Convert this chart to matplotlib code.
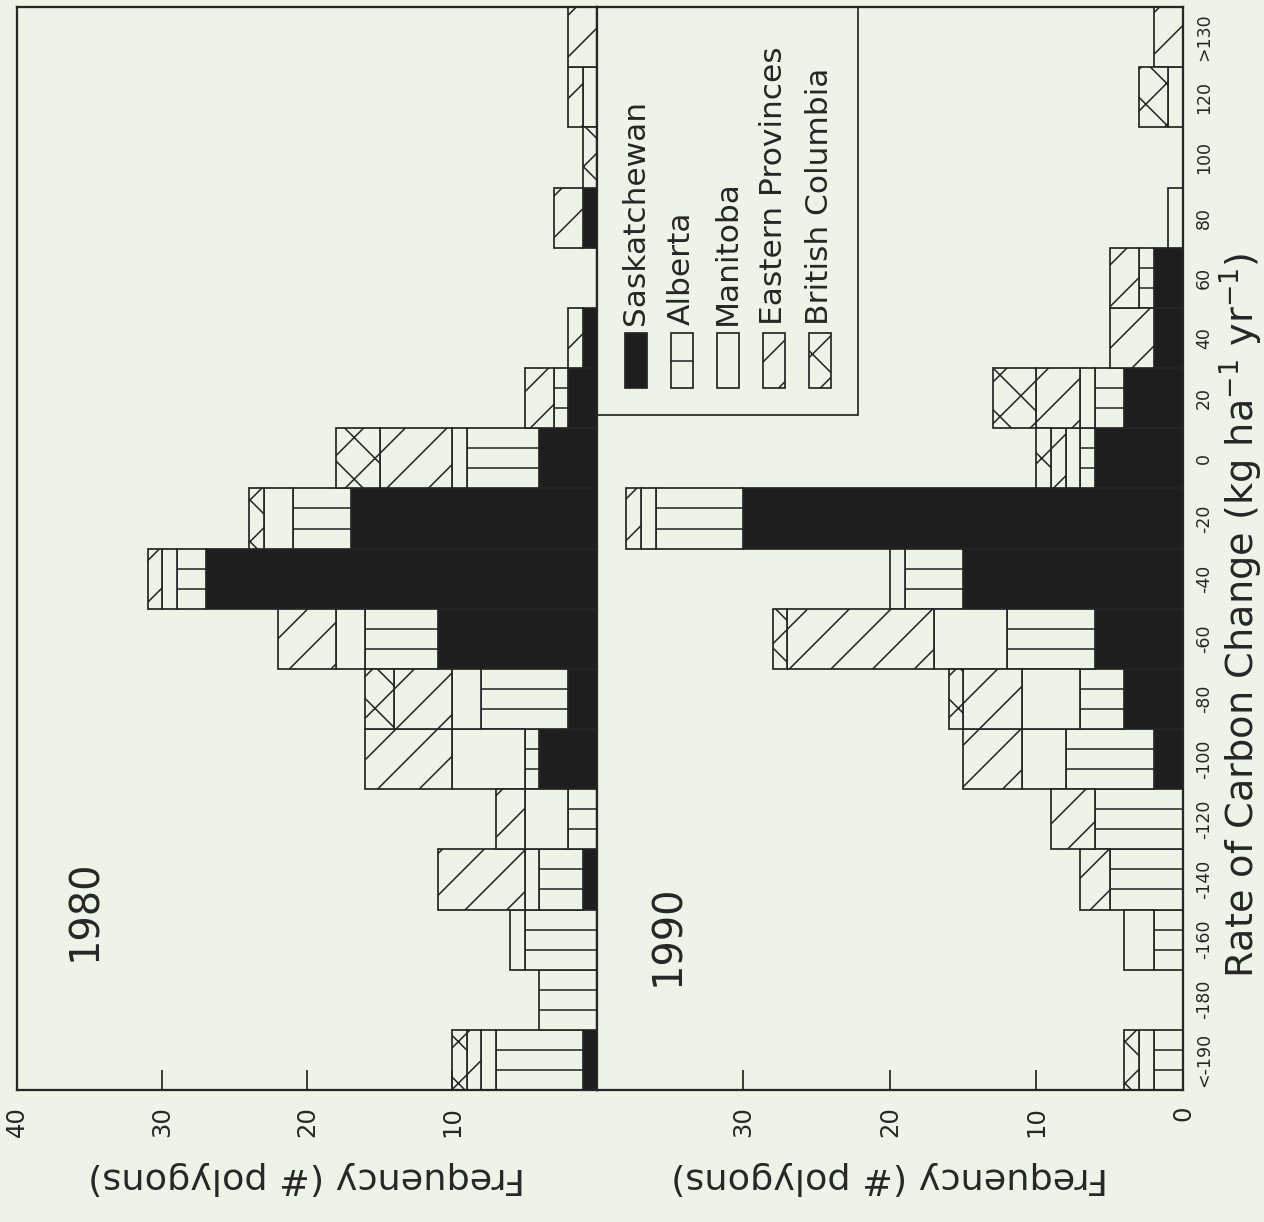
import numpy as np
import matplotlib.pyplot as plt
from matplotlib.patches import Rectangle

plt.rcParams['font.family'] = ['DejaVu Sans']
plt.rcParams['mathtext.fontset'] = 'dejavusans'
plt.rcParams['hatch.linewidth'] = 0.9
plt.rcParams['hatch.color'] = '#262626'

# bins of carbon change (kg ha-1 yr-1), left to right in the original figure
bins = ["<-190", "-180", "-160", "-140", "-120", "-100", "-80", "-60", "-40",
        "-20", "0", "20", "40", "60", "80", "100", "120", ">130"]
provinces = ["Saskatchewan", "Alberta", "Manitoba", "Eastern Provinces", "British Columbia"]

# 1980 counts (number of polygons)
sask_80    = [1, 0, 0, 1, 0, 4, 2, 11, 27, 17, 4, 2, 1, 0, 1, 0, 0, 0]
alberta_80 = [6, 4, 5, 3, 2, 1, 6, 5, 2, 4, 5, 1, 0, 0, 0, 0, 0, 0]
manit_80   = [1, 0, 1, 1, 3, 5, 2, 2, 1, 2, 1, 0, 0, 0, 0, 0, 1, 0]
east_80    = [1, 0, 0, 6, 2, 6, 4, 4, 1, 0, 5, 2, 1, 0, 2, 0, 1, 2]
bc_80      = [1, 0, 0, 0, 0, 0, 2, 0, 0, 1, 3, 0, 0, 0, 0, 1, 0, 0]

# 1990 counts
sask_90    = [0, 0, 0, 0, 0, 2, 4, 6, 15, 30, 6, 4, 2, 2, 0, 0, 0, 0]
alberta_90 = [2, 0, 2, 5, 6, 6, 3, 6, 4, 6, 1, 2, 0, 1, 0, 0, 0, 0]
manit_90   = [1, 0, 2, 0, 0, 3, 4, 5, 1, 1, 1, 1, 0, 0, 1, 0, 1, 0]
east_90    = [0, 0, 0, 2, 3, 4, 4, 10, 0, 1, 1, 3, 3, 2, 0, 0, 0, 2]
bc_90      = [1, 0, 0, 0, 0, 0, 1, 1, 0, 0, 1, 3, 0, 0, 0, 0, 2, 0]

freq_ticks_top = [10, 20, 30, 40]
freq_ticks_bottom = [0, 10, 20, 30]

bg = '#eef3e8'
ink = '#262626'
dark = '#1e1e1e'
# face colour, hatch for each province
styles = {
    "Saskatchewan": (dark, None),
    "Alberta": (bg, None),
    "Manitoba": (bg, None),
    "Eastern Provinces": (bg, '/'),
    "British Columbia": (bg, 'x'),
}

DPI = 125
fig = plt.figure(figsize=(1264 / DPI, 1222 / DPI), dpi=DPI, facecolor=bg)
ax1 = fig.add_axes([0.01345, 0.108, 0.4589, 0.8862], facecolor=bg)
ax2 = fig.add_axes([0.4723, 0.108, 0.4636, 0.8862], facecolor=bg)


def stack(ax, data):
    y = np.arange(len(bins))
    base = np.zeros(len(bins))
    for name, vals in zip(provinces, data):
        vals = np.asarray(vals, dtype=float)
        has = vals > 0
        fc, hatch = styles[name]
        ax.barh(y[has], vals[has], left=base[has], height=1.0, color=fc,
                hatch=hatch, edgecolor=ink, linewidth=1.0)
        if name == "Alberta":
            for yi, b0, v in zip(y[has], base[has], vals[has]):
                ax.hlines([yi - 1 / 6, yi + 1 / 6], b0, b0 + v, color=ink, lw=0.9)
        base += vals


stack(ax1, [sask_80, alberta_80, manit_80, east_80, bc_80])
stack(ax2, [sask_90, alberta_90, manit_90, east_90, bc_90])

for ax, ticks in [(ax1, freq_ticks_top), (ax2, freq_ticks_bottom)]:
    ax.set_xlim(40, 0)
    ax.set_ylim(-0.5, len(bins) - 0.5)
    ax.set_xticks(ticks)
    ax.set_xticklabels([str(t) for t in ticks], rotation=90, fontsize=14)
    ax.tick_params(axis='x', direction='in', length=11.5, width=1.0, pad=9, colors=ink)
    for s in ax.spines.values():
        s.set_linewidth(1.3)
        s.set_color(ink)
    ax.set_xlabel("Frequency (# polygons)", rotation=180, fontsize=21,
                  va='center', color=ink)
    ax.xaxis.set_label_coords(0.5, -0.081)

ax1.set_yticks([])
ax2.yaxis.tick_right()
ax2.set_yticks(np.arange(len(bins)))
ax2.set_yticklabels(bins, rotation=90, va='center', fontsize=10)
ax2.tick_params(axis='y', length=0, pad=7, colors=ink)
ax2.yaxis.set_label_position('right')
ax2.set_ylabel(r"Rate of Carbon Change (kg ha$^{-1}$ yr$^{-1}$)", rotation=90,
               fontsize=22, va='center', ha='center', color=ink)
ax2.yaxis.set_label_coords(1.099, 0.4386)

ax1.text(0.117, 0.166, "1980", rotation=90, fontsize=23, ha='center', va='center',
         transform=ax1.transAxes, color=ink)
ax2.text(0.121, 0.143, "1990", rotation=90, fontsize=23, ha='center', va='center',
         transform=ax2.transAxes, color=ink)

# legend, drawn rotated like the rest of the page
ax2.add_patch(Rectangle((0, 0.623), 0.445, 0.377, transform=ax2.transAxes,
                        fill=False, edgecolor=ink, lw=1.0, zorder=5))
for i, name in enumerate(provinces):
    cx = 0.066 + i * 0.0785
    fc, hatch = styles[name]
    ax2.add_patch(Rectangle((cx - 0.019, 0.648), 0.038, 0.051, transform=ax2.transAxes,
                            facecolor=fc, hatch=hatch, edgecolor=ink, lw=1.0, zorder=5))
    if name == "Alberta":
        ax2.plot([cx - 0.019, cx + 0.019], [0.6735, 0.6735], transform=ax2.transAxes,
                 color=ink, lw=0.9, zorder=6)
    ax2.text(cx, 0.706, name, rotation=90, fontsize=18, ha='center', va='bottom',
             transform=ax2.transAxes, color=ink, zorder=6)

fig.savefig('out.png', dpi=DPI, facecolor=bg)
